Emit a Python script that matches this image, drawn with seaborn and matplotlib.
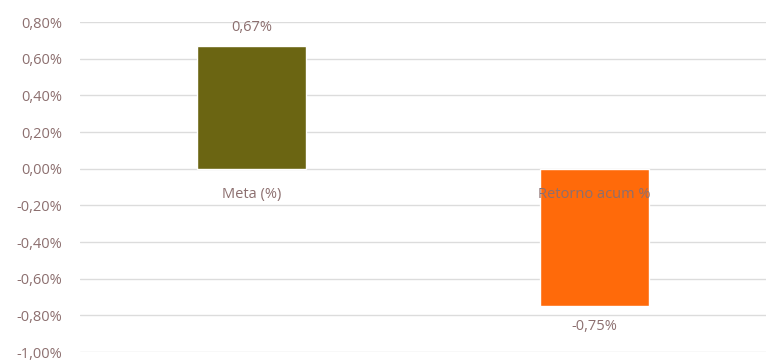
import matplotlib
matplotlib.use("Agg")
import matplotlib.pyplot as plt
import seaborn as sns
import pandas as pd

# ── Data ────────────────────────────────────────────────────────────────────
categories = ["Meta (%)", "Retorno acum %"]
values = [0.67, -0.75]
value_labels = ["0,67%", "-0,75%"]
bar_colors = ["#6b6512", "#ff6a0a"]
yticks = [0.8, 0.6, 0.4, 0.2, 0.0, -0.2, -0.4, -0.6, -0.8, -1.0]
ytick_labels = ["0,80%", "0,60%", "0,40%", "0,20%", "0,00%",
                "-0,20%", "-0,40%", "-0,60%", "-0,80%", "-1,00%"]

df = pd.DataFrame({"cat": categories, "val": values})

sns.set_theme(style="white")
plt.rcParams["font.family"] = ["Open Sans", "DejaVu Sans"]
TXT = "#8c6f6f"
FS = 10.5

fig = plt.figure(figsize=(7.66, 3.63), dpi=100)
ax = fig.add_axes([80 / 766, 1 - 352 / 363, 686 / 766, 330 / 363])

sns.barplot(data=df, x="cat", y="val", hue="cat", palette=bar_colors,
            saturation=1, width=0.315, legend=False, ax=ax, zorder=3)

ax.set_ylim(-1.0, 0.8)
ax.set_yticks(yticks)
ax.set_yticklabels(ytick_labels, color=TXT, fontsize=FS)
ax.tick_params(axis="y", length=0, pad=13)
ax.grid(axis="y", color="#dcdcdc", linewidth=1, zorder=0)
ax.set_xticks([])
ax.set_xlabel("")
ax.set_ylabel("")
for s in ax.spines.values():
    s.set_visible(False)

# category labels next to the zero line
for i, c in enumerate(categories):
    ax.text(i, -0.1, c, ha="center", va="top", color=TXT, fontsize=FS, zorder=4)

# value labels
for i, (v, t) in enumerate(zip(values, value_labels)):
    off = 0.06 if v > 0 else -0.07
    ax.text(i, v + off, t, ha="center", va="bottom" if v > 0 else "top",
            color=TXT, fontsize=FS, clip_on=False, zorder=4)

fig.savefig("out.png", dpi=100)
